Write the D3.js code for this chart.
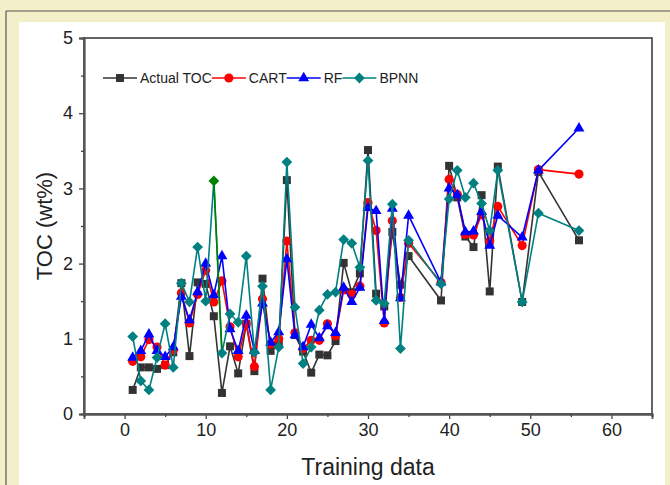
<!DOCTYPE html>
<html>
<head>
<meta charset="utf-8">
<script src="https://cdn.jsdelivr.net/npm/d3@7"></script>
<style>
  html, body { margin: 0; padding: 0; background: #f3efc9; }
  svg { display: block; }
  text { font-family: "Liberation Sans", Arial, sans-serif; fill: #222; }
</style>
</head>
<body>
<svg id="chart" width="670" height="485"></svg>
<script>
// x positions (training sample index)
const xs = [1,2,3,4,5,6,7,8,9,10,11,12,13,14,15,16,17,18,19,20,21,22,23,24,25,26,27,28,29,30,31,32,33,34,35,39,40,41,42,43,44,45,46,49,51,56];

// series values
const actualTOC = [0.32,0.62,0.62,0.60,0.65,0.82,1.74,0.77,1.75,1.73,1.30,0.28,0.90,0.54,1.20,0.57,1.80,0.84,0.93,3.11,1.05,0.83,0.55,0.79,0.78,0.97,2.01,1.62,1.87,3.51,1.60,1.43,2.42,1.72,2.10,1.51,3.30,2.88,2.36,2.22,2.91,1.63,3.29,1.49,3.22,2.31];
const cart = [0.70,0.76,0.99,0.89,0.65,0.85,1.61,1.21,1.59,1.91,1.49,1.77,1.16,0.76,1.20,0.63,1.53,0.93,1.00,2.30,1.08,0.87,0.98,0.98,1.20,1.04,1.65,1.59,1.70,2.81,2.44,1.21,2.57,1.55,2.27,1.75,3.12,2.92,2.39,2.38,2.65,2.30,2.76,2.24,3.25,3.19];
const rf = [0.75,0.84,1.06,0.84,0.76,0.89,1.56,1.25,1.62,2.00,1.58,2.10,1.13,0.84,1.31,0.84,1.47,0.95,1.09,2.06,1.05,0.89,1.19,1.01,1.17,1.08,1.68,1.49,1.68,2.74,2.70,1.24,2.73,1.54,2.64,1.75,3.00,2.91,2.42,2.43,2.69,2.24,2.64,2.35,3.24,3.80];
const bpnn = [1.03,0.44,0.32,0.75,1.20,0.62,1.74,1.49,2.22,1.50,3.10,0.81,1.33,1.22,2.10,0.82,1.70,0.32,0.89,3.35,1.42,0.67,0.89,1.38,1.59,1.62,2.32,2.27,1.95,3.37,1.51,1.47,2.79,0.87,2.31,1.73,2.86,3.24,2.88,3.07,2.80,2.44,3.24,1.49,2.67,2.44];

// the highlighted (selected) BPNN point
const highlightX = 11;

const xTicks = [0,10,20,30,40,50,60];
const yTicks = [0,1,2,3,4,5];

const series = [
  { name: 'Actual TOC', values: actualTOC, color: '#333333', shape: 'square' },
  { name: 'CART', values: cart, color: '#ff0000', shape: 'circle' },
  { name: 'RF', values: rf, color: '#0000ff', shape: 'triangle' },
  { name: 'BPNN', values: bpnn, color: '#008080', shape: 'diamond' }
];

const svg = d3.select('#chart');

// outer frame + white panel
svg.append('line').attr('x1', 6).attr('x2', 670).attr('y1', 11).attr('y2', 11)
  .attr('stroke', '#555').attr('stroke-width', 1.2);
svg.append('line').attr('x1', 6).attr('x2', 6).attr('y1', 11).attr('y2', 485)
  .attr('stroke', '#555').attr('stroke-width', 1.2);
svg.append('rect').attr('x', 19).attr('y', 22).attr('width', 646).attr('height', 470)
  .attr('fill', '#ffffff');

const pLeft = 84, pRight = 652, pTop = 38, pBottom = 414;

const x = d3.scaleLinear().domain([-5, 65]).range([pLeft, pRight]);
const y = d3.scaleLinear().domain([0, 5]).range([pBottom, pTop]);

// plot frame
svg.append('rect').attr('x', pLeft).attr('y', pTop)
  .attr('width', pRight - pLeft).attr('height', pBottom - pTop)
  .attr('fill', 'none').attr('stroke', '#555').attr('stroke-width', 1.8);

// axes
const xAxis = d3.axisBottom(x).tickValues(xTicks).tickSize(5).tickPadding(4).tickFormat(d3.format('d'));
const yAxis = d3.axisLeft(y).tickValues(yTicks).tickSize(5).tickPadding(6).tickFormat(d3.format('d'));

const gx = svg.append('g').attr('transform', `translate(0,${pBottom})`).call(xAxis);
const gy = svg.append('g').attr('transform', `translate(${pLeft},0)`).call(yAxis);

// minor ticks
svg.append('g').attr('transform', `translate(0,${pBottom})`)
  .call(d3.axisBottom(x).tickValues([-5,5,15,25,35,45,55,65]).tickSize(3).tickFormat(''));
svg.append('g').attr('transform', `translate(${pLeft},0)`)
  .call(d3.axisLeft(y).tickValues([0.5,1.5,2.5,3.5,4.5]).tickSize(3).tickFormat(''));

svg.selectAll('.domain').attr('stroke', '#555').attr('stroke-width', 1.8);
svg.selectAll('.tick line').attr('stroke', '#444').attr('stroke-width', 1.3);
[gx, gy].forEach(g => g.selectAll('text')
  .style('font-size', '18px').style('font-family', '"Liberation Sans", Arial, sans-serif').attr('fill', '#222'));

// axis titles
svg.append('text').attr('x', (pLeft + pRight) / 2).attr('y', 475)
  .attr('text-anchor', 'middle').style('font-size', '23px').text('Training data');
svg.append('text').attr('transform', `translate(52,${(pTop + pBottom) / 2}) rotate(-90)`)
  .attr('text-anchor', 'middle').style('font-size', '22px').text('TOC (wt%)');

function markerPath(shape) {
  if (shape === 'square') return d3.symbol(d3.symbolSquare, 64)();
  if (shape === 'circle') return d3.symbol(d3.symbolCircle, 66)();
  if (shape === 'triangle') return d3.symbol(d3.symbolTriangle, 52)();
  return d3.symbol(d3.symbolSquare, 58)();
}

const line = d3.line().x(d => x(d[0])).y(d => y(d[1]));

series.forEach(s => {
  const pts = xs.map((xv, i) => [xv, s.values[i]]);
  svg.append('path').datum(pts)
    .attr('d', line).attr('fill', 'none')
    .attr('stroke', s.color).attr('stroke-width', 1.6).attr('stroke-linejoin', 'round');

  if (s.shape === 'diamond') {
    // selected segment drawn in green
    const i = xs.indexOf(highlightX);
    svg.append('path').datum([pts[i], pts[i + 1]])
      .attr('d', line).attr('fill', 'none')
      .attr('stroke', '#008000').attr('stroke-width', 1.6);
  }

  svg.append('g').selectAll('path').data(pts).join('path')
    .attr('d', markerPath(s.shape))
    .attr('transform', d => {
      const base = `translate(${x(d[0])},${y(d[1])})`;
      return s.shape === 'diamond' ? base + ' rotate(45)' : base;
    })
    .attr('fill', d => (s.shape === 'diamond' && d[0] === highlightX) ? '#008000' : s.color);
});

// legend
const lg = svg.append('g').attr('transform', 'translate(0,78)');
let lx = 103;
series.forEach(s => {
  lg.append('line').attr('x1', lx).attr('x2', lx + 34).attr('y1', 0).attr('y2', 0)
    .attr('stroke', s.color).attr('stroke-width', 1.6);
  lg.append('path').attr('d', markerPath(s.shape))
    .attr('transform', `translate(${lx + 17},0)` + (s.shape === 'diamond' ? ' rotate(45)' : ''))
    .attr('fill', s.color);
  const t = lg.append('text').attr('x', lx + 37).attr('y', 5)
    .style('font-size', '14px').attr('fill', '#333').text(s.name);
  lx = lx + 37 + t.node().getComputedTextLength();
});
</script>
</body>
</html>
